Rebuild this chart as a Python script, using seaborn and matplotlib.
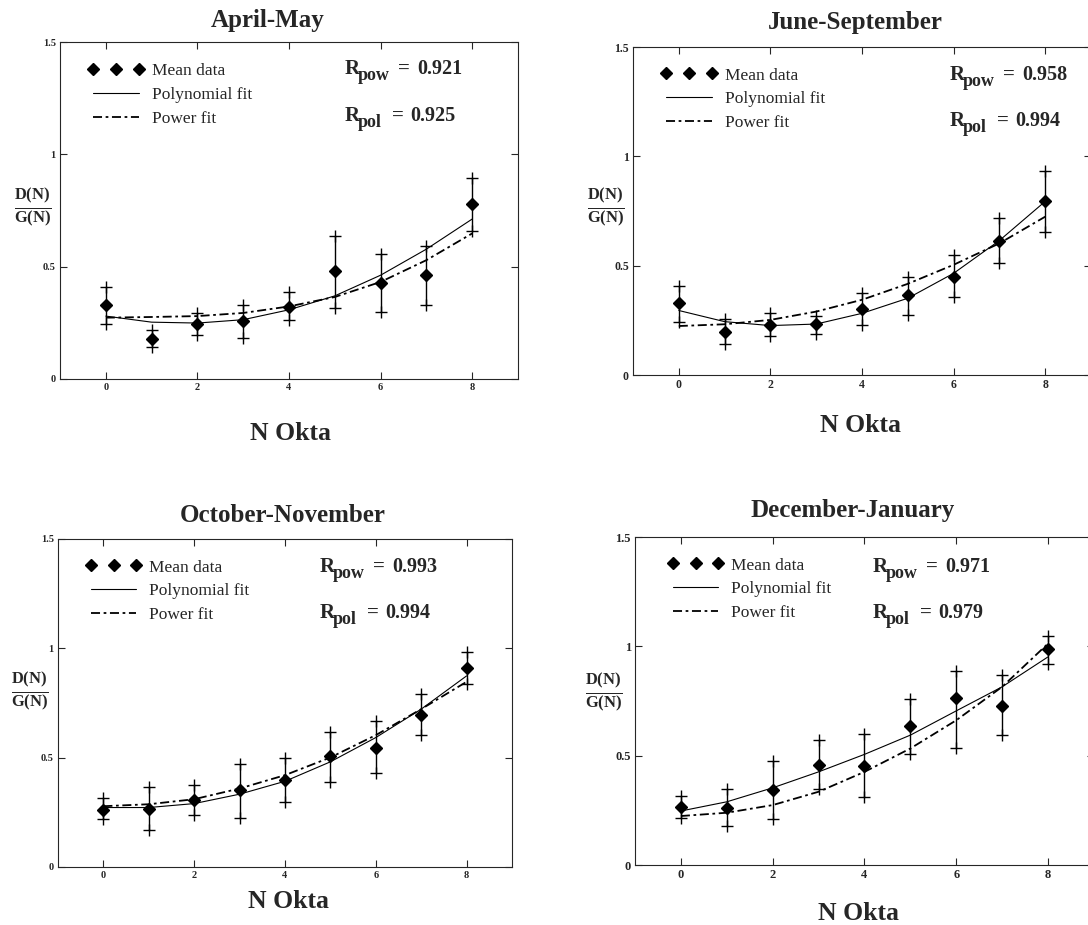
import seaborn as sns
import matplotlib.pyplot as plt
import matplotlib.transforms as mtransforms

# DATA
okta = [0, 1, 2, 3, 4, 5, 6, 7, 8]
seasons = ["April-May", "June-September", "October-November", "December-January"]

am_mean = [0.328, 0.179, 0.246, 0.256, 0.320, 0.480, 0.428, 0.462, 0.778]
am_upper = [0.410, 0.220, 0.295, 0.331, 0.387, 0.638, 0.557, 0.593, 0.896]
am_lower = [0.246, 0.142, 0.194, 0.183, 0.261, 0.317, 0.298, 0.328, 0.659]
am_poly = [0.280, 0.253, 0.249, 0.264, 0.308, 0.370, 0.462, 0.578, 0.712]
am_power = [0.273, 0.276, 0.280, 0.294, 0.323, 0.365, 0.432, 0.529, 0.648]

js_mean = [0.328, 0.195, 0.229, 0.233, 0.302, 0.366, 0.450, 0.613, 0.794]
js_upper = [0.409, 0.255, 0.282, 0.272, 0.374, 0.450, 0.549, 0.717, 0.931]
js_lower = [0.244, 0.140, 0.179, 0.188, 0.229, 0.275, 0.356, 0.511, 0.653]
js_poly = [0.295, 0.244, 0.226, 0.233, 0.282, 0.351, 0.465, 0.615, 0.794]
js_power = [0.224, 0.232, 0.252, 0.290, 0.344, 0.417, 0.504, 0.602, 0.724]

on_mean = [0.262, 0.267, 0.305, 0.351, 0.397, 0.507, 0.546, 0.697, 0.908]
on_upper = [0.316, 0.366, 0.377, 0.473, 0.500, 0.618, 0.667, 0.789, 0.984]
on_lower = [0.218, 0.168, 0.237, 0.226, 0.295, 0.389, 0.432, 0.603, 0.835]
on_poly = [0.272, 0.272, 0.290, 0.333, 0.392, 0.481, 0.592, 0.722, 0.874]
on_power = [0.278, 0.287, 0.310, 0.359, 0.420, 0.501, 0.603, 0.722, 0.847]

dj_mean = [0.266, 0.262, 0.343, 0.457, 0.452, 0.637, 0.764, 0.726, 0.987]
dj_upper = [0.315, 0.347, 0.477, 0.571, 0.598, 0.761, 0.886, 0.868, 1.046]
dj_lower = [0.213, 0.180, 0.209, 0.346, 0.309, 0.507, 0.536, 0.594, 0.918]
dj_poly = [0.247, 0.289, 0.353, 0.426, 0.506, 0.594, 0.705, 0.815, 0.952]
dj_power = [0.224, 0.239, 0.274, 0.335, 0.426, 0.533, 0.662, 0.815, 1.013]

r_pow = ["0.921", "0.958", "0.993", "0.971"]
r_pol = ["0.925", "0.994", "0.994", "0.979"]

panels = [
    (am_mean, am_upper, am_lower, am_poly, am_power),
    (js_mean, js_upper, js_lower, js_poly, js_power),
    (on_mean, on_upper, on_lower, on_poly, on_power),
    (dj_mean, dj_upper, dj_lower, dj_poly, dj_power),
]

# STYLE
sns.set_style("ticks")
plt.rcParams['font.family'] = ['Liberation Serif', 'DejaVu Serif']
plt.rcParams['mathtext.fontset'] = 'custom'
plt.rcParams['mathtext.rm'] = 'Liberation Serif'
plt.rcParams['mathtext.bf'] = 'Liberation Serif:bold'
plt.rcParams['mathtext.it'] = 'Liberation Serif:italic'

W, H = 1088, 925
fig = plt.figure(figsize=(W / 100, H / 100), dpi=100)

# axes boxes in pixels: left, top, right, bottom
boxes = [(60, 42, 518, 379), (633, 47, 1091, 375), (58, 539, 512, 867), (635, 537, 1094, 865)]
title_xy = [(268, 20), (855, 23), (283, 516), (853, 510)]
xlab_xy = [(290, 433), (860, 425), (288, 902), (858, 913)]
ylab_xy = [(33, 208), (606, 208), (30, 692), (604, 693)]
r_xy = [(345, 68, 115), (950, 74, 120), (320, 566, 612), (873, 566, 612)]
leg_x = [0.035, 0.035, 0.035, 0.045]
tick_size = [7.5, 8.5, 7.5, 9]


def r_label(x, y, sub, val, eq_dx, num_dx):
    # R with a large subscript, drawn in figure pixels
    base = fig.transFigure
    fig.text(x / W, 1 - y / H, "R", fontsize=15, fontweight='bold', va='baseline')
    t = mtransforms.offset_copy(base, fig=fig, x=13, y=-6, units='dots')
    fig.text(x / W, 1 - y / H, sub, fontsize=13, fontweight='bold', va='baseline', transform=t)
    t = mtransforms.offset_copy(base, fig=fig, x=eq_dx, y=0, units='dots')
    fig.text(x / W, 1 - y / H, "=", fontsize=15, fontweight='bold', va='baseline', transform=t)
    t = mtransforms.offset_copy(base, fig=fig, x=num_dx, y=0, units='dots')
    fig.text(x / W, 1 - y / H, val, fontsize=14.5, fontweight='bold', va='baseline', transform=t)


for i, (mean, upper, lower, poly, power) in enumerate(panels):
    l, t, r, b = boxes[i]
    ax = fig.add_axes([l / W, 1 - b / H, (r - l) / W, (b - t) / H])

    sns.lineplot(x=okta, y=poly, ax=ax, color='black', lw=0.8, label='Polynomial fit')
    pw = sns.lineplot(x=okta, y=power, ax=ax, color='black', lw=1.3, label='Power fit')
    pw.lines[-1].set_dashes([5, 2, 1.5, 2])

    # error bars drawn as vertical lines with + ends
    ax.vlines(okta, lower, upper, color='black', lw=1.0)
    ax.plot(okta, upper, '+', color='black', ms=8.5, mew=1.0)
    ax.plot(okta, lower, '+', color='black', ms=8.5, mew=1.0)

    ax.plot(okta, mean, 'D', color='black', ms=6, ls='none', label='Mean data', zorder=5)

    ax.set_xlim(-1, 9)
    ax.set_ylim(0, 1.5)
    ax.set_xticks([0, 2, 4, 6, 8])
    ax.set_yticks([0, 0.5, 1, 1.5])
    ax.set_yticklabels(["0", "0.5", "1", "1.5"])
    ax.tick_params(direction='in', top=True, right=True, length=5, width=0.8,
                   labelsize=tick_size[i], pad=3)
    for lab in ax.get_xticklabels() + ax.get_yticklabels():
        lab.set_fontweight('bold')
    for s in ax.spines.values():
        s.set_linewidth(0.8)
    ax.set_xlabel("")
    ax.set_ylabel("")

    h, lb = ax.get_legend_handles_labels()
    order = [lb.index('Mean data'), lb.index('Polynomial fit'), lb.index('Power fit')]
    ax.legend([h[k] for k in order], [lb[k] for k in order], loc='upper left',
              frameon=False, numpoints=3, handlelength=3.2, fontsize=12.5,
              bbox_to_anchor=(leg_x[i], 0.975), labelspacing=0.45, handletextpad=0.45,
              borderpad=0.2)

    rx, ry1, ry2 = r_xy[i]
    r_label(rx, ry1 + 6, "pow", r_pow[i], 53, 72)
    r_label(rx, ry2 + 6, "pol", r_pol[i], 47, 65)

    tx, ty = title_xy[i]
    fig.text(tx / W, 1 - ty / H, seasons[i], fontsize=18, fontweight='bold',
             ha='center', va='center')
    nx, ny = xlab_xy[i]
    fig.text(nx / W, 1 - ny / H, "N Okta", fontsize=18.5, fontweight='bold',
             ha='center', va='center')
    yx, yy = ylab_xy[i]
    fig.text(yx / W, 1 - yy / H, r"$\mathbf{\frac{D(N)}{G(N)}}$", fontsize=17,
             ha='center', va='center')

fig.savefig("out.png", dpi=100)
